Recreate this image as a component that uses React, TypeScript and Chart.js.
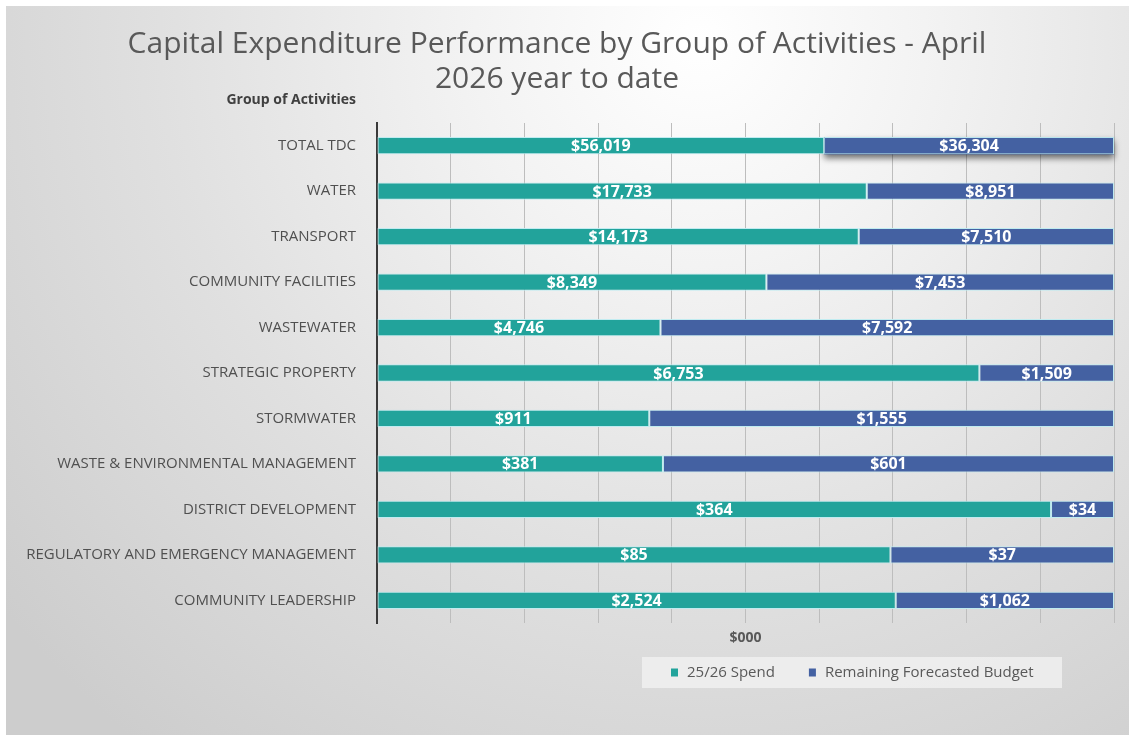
import React, { useEffect, useRef } from 'react';
import { Chart, registerables } from 'chart.js';

Chart.register(...registerables);

const categories = [
  'TOTAL TDC',
  'WATER',
  'TRANSPORT',
  'COMMUNITY FACILITIES',
  'WASTEWATER',
  'STRATEGIC PROPERTY',
  'STORMWATER',
  'WASTE & ENVIRONMENTAL MANAGEMENT',
  'DISTRICT DEVELOPMENT',
  'REGULATORY AND EMERGENCY MANAGEMENT',
  'COMMUNITY LEADERSHIP',
];
const spend = [56019, 17733, 14173, 8349, 4746, 6753, 911, 381, 364, 85, 2524];
const remaining = [36304, 8951, 7510, 7453, 7592, 1509, 1555, 601, 34, 37, 1062];
const seriesNames = ['25/26 Spend', 'Remaining Forecasted Budget'];
const titleLines = ['Capital Expenditure Performance by Group of Activities - April', '2026 year to date'];
const valueAxisTitle = '$000';
const categoryAxisTitle = 'Group of Activities';
const pctTicks = [0, 10, 20, 30, 40, 50, 60, 70, 80, 90, 100];

const TEAL = '#22a39b';
const BLUE = '#4461a2';
const TEXT = '#595959';
const FONT = "'Open Sans', sans-serif";

const rawValues = [spend, remaining];

const fmt = (v: number) => '$' + v.toLocaleString('en-US');

const backgroundPlugin = {
  id: 'bgFrame',
  beforeDraw(chart: any) {
    const { ctx, width, height } = chart;
    ctx.save();
    ctx.fillStyle = '#ffffff';
    ctx.fillRect(0, 0, width, height);
    const g = ctx.createRadialGradient(700, 40, 0, 700, 40, 900);
    g.addColorStop(0, '#ffffff');
    g.addColorStop(0.25, '#f3f3f3');
    g.addColorStop(0.6, '#e0e0e0');
    g.addColorStop(1, '#cdcdcd');
    ctx.fillStyle = g;
    ctx.fillRect(6, 6, width - 6, height - 13);
    ctx.restore();
  },
};

const shadowPlugin = {
  id: 'totalShadow',
  beforeDatasetsDraw(chart: any) {
    const meta = chart.getDatasetMeta(1);
    const el = meta && meta.data[0];
    if (!el) return;
    const { x, y, base, height } = el.getProps(['x', 'y', 'base', 'height'], true);
    const ctx = chart.ctx;
    ctx.save();
    ctx.shadowColor = 'rgba(0,0,0,0.55)';
    ctx.shadowBlur = 6;
    ctx.shadowOffsetY = 4;
    ctx.fillStyle = BLUE;
    ctx.fillRect(Math.min(x, base), y - height / 2, Math.abs(x - base), height);
    ctx.restore();
  },
};

const barLabelPlugin = {
  id: 'barLabels',
  afterDatasetsDraw(chart: any) {
    const ctx = chart.ctx;
    ctx.save();
    ctx.font = `bold 16px ${FONT}`;
    ctx.fillStyle = '#ffffff';
    ctx.textAlign = 'center';
    ctx.textBaseline = 'middle';
    chart.data.datasets.forEach((ds: any, di: number) => {
      const meta = chart.getDatasetMeta(di);
      meta.data.forEach((el: any, i: number) => {
        const { x, y, base } = el.getProps(['x', 'y', 'base'], true);
        ctx.fillText(fmt(rawValues[di][i]), (x + base) / 2, y + 1);
      });
    });
    ctx.restore();
  },
};

const extrasPlugin = {
  id: 'extras',
  afterDraw(chart: any) {
    const ctx = chart.ctx;
    const area = chart.chartArea;
    const yScale = chart.scales.y;
    ctx.save();
    // category axis title above labels
    ctx.font = `bold 14px ${FONT}`;
    ctx.fillStyle = '#404040';
    ctx.textAlign = 'right';
    ctx.textBaseline = 'middle';
    ctx.fillText(categoryAxisTitle, yScale.right - 21, area.top - 23);

    // legend
    const boxX = area.left + 265;
    const boxY = area.bottom + 34;
    const boxW = 420;
    const boxH = 31;
    ctx.fillStyle = 'rgba(240,240,240,0.85)';
    ctx.fillRect(boxX, boxY, boxW, boxH);
    ctx.font = `15px ${FONT}`;
    ctx.textAlign = 'left';
    let x = boxX + 29;
    const cy = boxY + boxH / 2;
    chart.data.datasets.forEach((ds: any) => {
      ctx.fillStyle = ds.backgroundColor;
      ctx.fillRect(x, cy - 4, 7, 8);
      ctx.fillStyle = TEXT;
      ctx.fillText(ds.label, x + 16, cy);
      x += 16 + ctx.measureText(ds.label).width + 34;
    });
    ctx.restore();
  },
};

export default function App() {
  const canvasRef = useRef<HTMLCanvasElement | null>(null);

  useEffect(() => {
    if (!canvasRef.current) return;
    const totals = spend.map((v, i) => v + remaining[i]);
    const pct = rawValues.map((arr) => arr.map((v, i) => (v / totals[i]) * 100));
    const chart = new Chart(canvasRef.current, {
      type: 'bar',
      data: {
        labels: categories,
        datasets: [
          {
            label: seriesNames[0],
            data: pct[0],
            backgroundColor: TEAL,
            borderColor: 'rgba(190,235,240,0.95)',
            borderWidth: 1,
            borderSkipped: false,
            barPercentage: 0.38,
            categoryPercentage: 1,
          },
          {
            label: seriesNames[1],
            data: pct[1],
            backgroundColor: BLUE,
            borderColor: 'rgba(190,235,240,0.95)',
            borderWidth: 1,
            borderSkipped: false,
            barPercentage: 0.38,
            categoryPercentage: 1,
          },
        ],
      },
      options: {
        indexAxis: 'y',
        responsive: false,
        animation: false,
        devicePixelRatio: 1,
        layout: { padding: { left: 0, right: 15, top: 0, bottom: 6 } },
        plugins: {
          legend: { display: false },
          tooltip: { enabled: false },
          title: {
            display: true,
            text: titleLines,
            color: TEXT,
            font: { family: FONT, size: 30, weight: 'normal', lineHeight: 1.17 },
            padding: { top: 26.5, bottom: 26.3 },
          },
        },
        scales: {
          x: {
            stacked: true,
            min: 0,
            max: 100,
            afterBuildTicks(scale: any) {
              scale.ticks = pctTicks.map((v) => ({ value: v }));
            },
            ticks: { display: false },
            grid: { color: '#bdbdbd', lineWidth: 1, drawTicks: false },
            border: { display: false },
            title: {
              display: true,
              text: valueAxisTitle,
              color: TEXT,
              font: { family: FONT, size: 14, weight: 'bold', lineHeight: 1.2 },
              padding: { top: 6.6, bottom: 89.6 },
            },
          },
          y: {
            stacked: true,
            afterFit(scale: any) {
              scale.width = 377;
            },
            ticks: {
              color: '#505050',
              font: { family: FONT, size: 15 },
              padding: 21,
            },
            grid: { display: false, drawTicks: false },
            border: { display: true, color: '#3a3a3a', width: 2 },
          },
        },
      },
      plugins: [backgroundPlugin, shadowPlugin, barLabelPlugin, extrasPlugin],
    });
    return () => chart.destroy();
  }, []);

  return (
    <div style={{ position: 'fixed', left: 0, top: 0, width: 1129, height: 742 }}>
      <canvas ref={canvasRef} width={1129} height={742} style={{ display: 'block' }} />
    </div>
  );
}
